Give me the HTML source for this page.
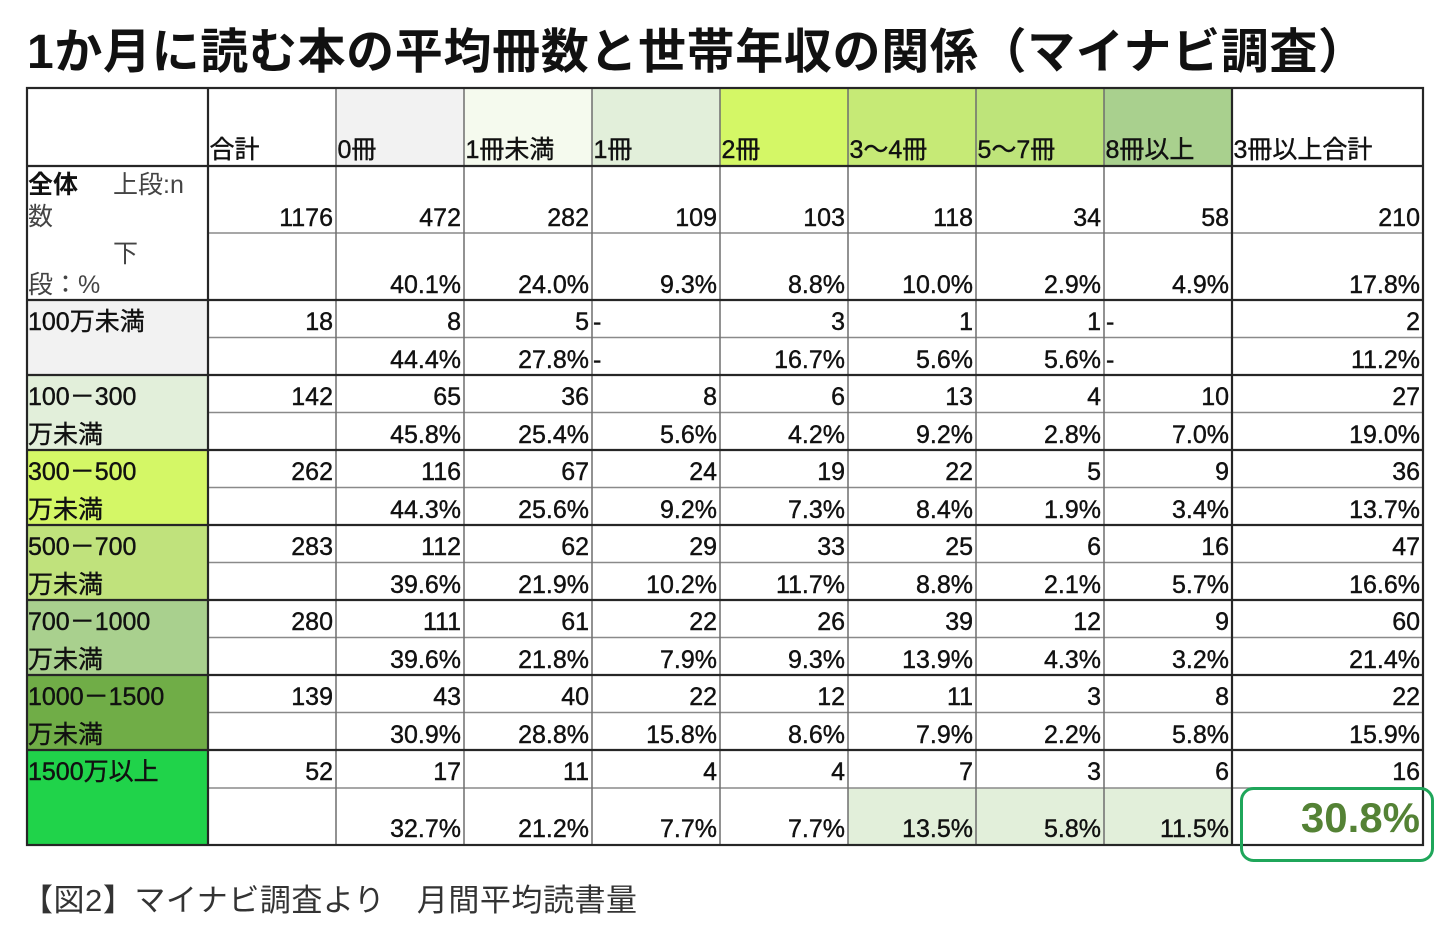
<!DOCTYPE html>
<html>
<head>
<meta charset="utf-8">
<style>
html,body{margin:0;padding:0;background:#fff;}
svg{display:block;}
</style>
</head>
<body>
<svg xmlns="http://www.w3.org/2000/svg" width="1454" height="936" viewBox="0 0 1454 936">
<rect x="0" y="0" width="1454" height="936" fill="#fff"/>

<!-- Title -->
<text x="27" y="68" font-family="'Liberation Sans','Noto Sans CJK JP',sans-serif" font-size="48" font-weight="bold" fill="#111" textLength="1339" lengthAdjust="spacing">1か月に読む本の平均冊数と世帯年収の関係（マイナビ調査）</text>

<!-- Header backgrounds -->
<rect x="336" y="88" width="128" height="78" fill="#f2f2f2"/>
<rect x="464" y="88" width="128" height="78" fill="#f5faee"/>
<rect x="592" y="88" width="128" height="78" fill="#e2efda"/>
<rect x="720" y="88" width="128" height="78" fill="#d4f766"/>
<rect x="848" y="88" width="128" height="78" fill="#c6ea76"/>
<rect x="976" y="88" width="128" height="78" fill="#bee47a"/>
<rect x="1104" y="88" width="128" height="78" fill="#a9d08e"/>

<!-- Row label backgrounds -->
<rect x="27" y="300" width="181" height="75" fill="#f2f2f2"/>
<rect x="27" y="375" width="181" height="75" fill="#e2efda"/>
<rect x="27" y="450" width="181" height="75" fill="#d4f766"/>
<rect x="27" y="525" width="181" height="75" fill="#c0e27c"/>
<rect x="27" y="600" width="181" height="75" fill="#a9d08e"/>
<rect x="27" y="675" width="181" height="75" fill="#70ad47"/>
<rect x="27" y="750" width="181" height="95" fill="#20d34a"/>

<!-- Highlight cells last row -->
<rect x="848" y="788" width="384" height="57" fill="#e2efda"/>

<!-- Minor horizontal lines -->
<g stroke="#8a8a8a" stroke-width="1.5">
<line x1="208" y1="233" x2="1423" y2="233"/>
<line x1="208" y1="337.5" x2="1423" y2="337.5"/>
<line x1="208" y1="412.5" x2="1423" y2="412.5"/>
<line x1="208" y1="487.5" x2="1423" y2="487.5"/>
<line x1="208" y1="562.5" x2="1423" y2="562.5"/>
<line x1="208" y1="637.5" x2="1423" y2="637.5"/>
<line x1="208" y1="712.5" x2="1423" y2="712.5"/>
<line x1="208" y1="788" x2="1423" y2="788"/>
</g>

<!-- Minor vertical lines -->
<g stroke="#6e6e6e" stroke-width="1.5">
<line x1="336" y1="88" x2="336" y2="845"/>
<line x1="464" y1="88" x2="464" y2="845"/>
<line x1="592" y1="88" x2="592" y2="845"/>
<line x1="720" y1="88" x2="720" y2="845"/>
<line x1="848" y1="88" x2="848" y2="845"/>
<line x1="976" y1="88" x2="976" y2="845"/>
<line x1="1104" y1="88" x2="1104" y2="845"/>
</g>

<!-- Major lines -->
<g stroke="#262626" stroke-width="2.2">
<line x1="27" y1="166" x2="1423" y2="166"/>
<line x1="27" y1="300" x2="1423" y2="300"/>
<line x1="27" y1="375" x2="1423" y2="375"/>
<line x1="27" y1="450" x2="1423" y2="450"/>
<line x1="27" y1="525" x2="1423" y2="525"/>
<line x1="27" y1="600" x2="1423" y2="600"/>
<line x1="27" y1="675" x2="1423" y2="675"/>
<line x1="27" y1="750" x2="1423" y2="750"/>
<line x1="208" y1="88" x2="208" y2="845"/>
<line x1="1232" y1="88" x2="1232" y2="845"/>
<rect x="27" y="88" width="1396" height="757" fill="none"/>
</g>

<!-- Header texts -->
<g font-family="'Liberation Sans','Noto Sans CJK JP',sans-serif" font-size="25" fill="#111" stroke="#111" stroke-width="0.4">
<text x="209.5" y="158">合計</text>
<text x="337.5" y="158">0冊</text>
<text x="465.5" y="158">1冊未満</text>
<text x="593.5" y="158">1冊</text>
<text x="721.5" y="158">2冊</text>
<text x="849.5" y="158">3～4冊</text>
<text x="977.5" y="158">5～7冊</text>
<text x="1105.5" y="158">8冊以上</text>
<text x="1233.5" y="158">3冊以上合計</text>
</g>

<!-- 全体 label -->
<g font-family="'Liberation Sans','Noto Sans CJK JP',sans-serif" font-size="25">
<text x="28" y="193" font-weight="bold" fill="#111">全体</text>
<text x="113" y="193" fill="#444">上段:n</text>
<text x="28" y="225" fill="#444">数</text>
<text x="113" y="262" fill="#444">下</text>
<text x="28" y="293" fill="#444">段：%</text>
</g>

<!-- Row labels -->
<g font-family="'Liberation Sans','Noto Sans CJK JP',sans-serif" font-size="25" fill="#111" stroke="#111" stroke-width="0.4">
<text x="28" y="330">100万未満</text>
<text x="28" y="405">100－300</text>
<text x="28" y="443">万未満</text>
<text x="28" y="480">300－500</text>
<text x="28" y="518">万未満</text>
<text x="28" y="555">500－700</text>
<text x="28" y="593">万未満</text>
<text x="28" y="630">700－1000</text>
<text x="28" y="668">万未満</text>
<text x="28" y="705">1000－1500</text>
<text x="28" y="743">万未満</text>
<text x="28" y="780">1500万以上</text>
</g>

<!-- Numbers -->
<g font-family="'Liberation Sans',sans-serif" font-size="25" fill="#111" stroke="#111" stroke-width="0.4" text-anchor="end">
<!-- 全体 -->
<text x="333" y="226">1176</text>
<text x="461" y="226">472</text>
<text x="589" y="226">282</text>
<text x="717" y="226">109</text>
<text x="845" y="226">103</text>
<text x="973" y="226">118</text>
<text x="1101" y="226">34</text>
<text x="1229" y="226">58</text>
<text x="1420" y="226">210</text>
<text x="461" y="293">40.1%</text>
<text x="589" y="293">24.0%</text>
<text x="717" y="293">9.3%</text>
<text x="845" y="293">8.8%</text>
<text x="973" y="293">10.0%</text>
<text x="1101" y="293">2.9%</text>
<text x="1229" y="293">4.9%</text>
<text x="1420" y="293">17.8%</text>
<!-- 100万未満 -->
<text x="333" y="330">18</text>
<text x="461" y="330">8</text>
<text x="589" y="330">5</text>
<text x="845" y="330">3</text>
<text x="973" y="330">1</text>
<text x="1101" y="330">1</text>
<text x="1420" y="330">2</text>
<text x="461" y="368">44.4%</text>
<text x="589" y="368">27.8%</text>
<text x="845" y="368">16.7%</text>
<text x="973" y="368">5.6%</text>
<text x="1101" y="368">5.6%</text>
<text x="1420" y="368">11.2%</text>
<!-- 100-300 -->
<text x="333" y="405">142</text>
<text x="461" y="405">65</text>
<text x="589" y="405">36</text>
<text x="717" y="405">8</text>
<text x="845" y="405">6</text>
<text x="973" y="405">13</text>
<text x="1101" y="405">4</text>
<text x="1229" y="405">10</text>
<text x="1420" y="405">27</text>
<text x="461" y="443">45.8%</text>
<text x="589" y="443">25.4%</text>
<text x="717" y="443">5.6%</text>
<text x="845" y="443">4.2%</text>
<text x="973" y="443">9.2%</text>
<text x="1101" y="443">2.8%</text>
<text x="1229" y="443">7.0%</text>
<text x="1420" y="443">19.0%</text>
<!-- 300-500 -->
<text x="333" y="480">262</text>
<text x="461" y="480">116</text>
<text x="589" y="480">67</text>
<text x="717" y="480">24</text>
<text x="845" y="480">19</text>
<text x="973" y="480">22</text>
<text x="1101" y="480">5</text>
<text x="1229" y="480">9</text>
<text x="1420" y="480">36</text>
<text x="461" y="518">44.3%</text>
<text x="589" y="518">25.6%</text>
<text x="717" y="518">9.2%</text>
<text x="845" y="518">7.3%</text>
<text x="973" y="518">8.4%</text>
<text x="1101" y="518">1.9%</text>
<text x="1229" y="518">3.4%</text>
<text x="1420" y="518">13.7%</text>
<!-- 500-700 -->
<text x="333" y="555">283</text>
<text x="461" y="555">112</text>
<text x="589" y="555">62</text>
<text x="717" y="555">29</text>
<text x="845" y="555">33</text>
<text x="973" y="555">25</text>
<text x="1101" y="555">6</text>
<text x="1229" y="555">16</text>
<text x="1420" y="555">47</text>
<text x="461" y="593">39.6%</text>
<text x="589" y="593">21.9%</text>
<text x="717" y="593">10.2%</text>
<text x="845" y="593">11.7%</text>
<text x="973" y="593">8.8%</text>
<text x="1101" y="593">2.1%</text>
<text x="1229" y="593">5.7%</text>
<text x="1420" y="593">16.6%</text>
<!-- 700-1000 -->
<text x="333" y="630">280</text>
<text x="461" y="630">111</text>
<text x="589" y="630">61</text>
<text x="717" y="630">22</text>
<text x="845" y="630">26</text>
<text x="973" y="630">39</text>
<text x="1101" y="630">12</text>
<text x="1229" y="630">9</text>
<text x="1420" y="630">60</text>
<text x="461" y="668">39.6%</text>
<text x="589" y="668">21.8%</text>
<text x="717" y="668">7.9%</text>
<text x="845" y="668">9.3%</text>
<text x="973" y="668">13.9%</text>
<text x="1101" y="668">4.3%</text>
<text x="1229" y="668">3.2%</text>
<text x="1420" y="668">21.4%</text>
<!-- 1000-1500 -->
<text x="333" y="705">139</text>
<text x="461" y="705">43</text>
<text x="589" y="705">40</text>
<text x="717" y="705">22</text>
<text x="845" y="705">12</text>
<text x="973" y="705">11</text>
<text x="1101" y="705">3</text>
<text x="1229" y="705">8</text>
<text x="1420" y="705">22</text>
<text x="461" y="743">30.9%</text>
<text x="589" y="743">28.8%</text>
<text x="717" y="743">15.8%</text>
<text x="845" y="743">8.6%</text>
<text x="973" y="743">7.9%</text>
<text x="1101" y="743">2.2%</text>
<text x="1229" y="743">5.8%</text>
<text x="1420" y="743">15.9%</text>
<!-- 1500+ -->
<text x="333" y="780">52</text>
<text x="461" y="780">17</text>
<text x="589" y="780">11</text>
<text x="717" y="780">4</text>
<text x="845" y="780">4</text>
<text x="973" y="780">7</text>
<text x="1101" y="780">3</text>
<text x="1229" y="780">6</text>
<text x="1420" y="780">16</text>
<text x="461" y="837">32.7%</text>
<text x="589" y="837">21.2%</text>
<text x="717" y="837">7.7%</text>
<text x="845" y="837">7.7%</text>
<text x="973" y="837">13.5%</text>
<text x="1101" y="837">5.8%</text>
<text x="1229" y="837">11.5%</text>
</g>

<!-- Dashes -->
<g font-family="'Liberation Sans',sans-serif" font-size="25" fill="#111" stroke="#111" stroke-width="0.4">
<text x="593" y="330">-</text>
<text x="593" y="368">-</text>
<text x="1106" y="330">-</text>
<text x="1106" y="368">-</text>
</g>

<!-- Highlight -->
<text x="1420" y="832" font-family="'Liberation Sans',sans-serif" font-size="42" font-weight="bold" fill="#548235" text-anchor="end">30.8%</text>
<rect x="1241.5" y="788.5" width="191" height="72" rx="12" ry="12" fill="none" stroke="#1fa65a" stroke-width="3"/>

<!-- Caption -->
<text x="22" y="911" font-family="'Liberation Sans','Noto Sans CJK JP',sans-serif" font-size="31" fill="#333" textLength="615" lengthAdjust="spacing">【図2】マイナビ調査より　月間平均読書量</text>
</svg>
</body>
</html>
